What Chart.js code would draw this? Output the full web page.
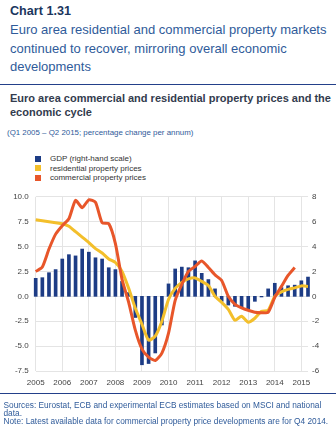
<!DOCTYPE html>
<html>
<head>
<meta charset="utf-8">
<script src="https://cdn.jsdelivr.net/npm/chart.js@4.4.1/dist/chart.umd.min.js"></script>
<style>
  body { margin: 0; width: 336px; height: 435px; overflow: hidden; background: #fff;
         font-family: "Liberation Sans", Arial, sans-serif; position: relative; }
  .abs { position: absolute; white-space: nowrap; }
  #chartNo { left: 10px; top: 3px; font-size: 12.6px; font-weight: bold; color: #1b365d; line-height: 16px; }
  #title { left: 10px; top: 21px; font-size: 13px; line-height: 18.7px; color: #2f5b9a; }
  .rule { position: absolute; left: 0; width: 336px; height: 1.5px; background: #23408a; }
  #subtitle { left: 10px; top: 91px; font-size: 11px; font-weight: bold; line-height: 14.4px; color: #333c4e; }
  #period { left: 7px; top: 128px; font-size: 7.9px; line-height: 10px; color: #2f5b9a; }
  #legend { left: 35px; top: 154px; font-size: 8px; line-height: 9.6px; color: #333; }
  #legend span.sw { display: inline-block; width: 6px; height: 6px; margin-right: 9px; vertical-align: -0.5px; }
  #wrap { position: absolute; left: 0; top: 185px; width: 336px; height: 210px; }
  #notes { left: 3.5px; top: 401px; font-size: 8.3px; line-height: 8px; color: #2f5b9a; }
</style>
</head>
<body>
<div id="chartNo" class="abs">Chart 1.31</div>
<div id="title" class="abs">Euro area residential and commercial property markets<br>continued to recover, mirroring overall economic<br>developments</div>
<div class="rule" style="top:83.5px"></div>
<div id="subtitle" class="abs">Euro area commercial and residential property prices and the<br>economic cycle</div>
<div id="period" class="abs">(Q1 2005 – Q2 2015; percentage change per annum)</div>
<div id="legend" class="abs"></div>
<div id="wrap"><canvas id="chart"></canvas></div>
<div class="rule" style="top:392.5px"></div>
<div id="notes" class="abs">Sources: Eurostat, ECB and experimental ECB estimates based on MSCI and national<br>data.<br>Note: Latest available data for commercial property price developments are for Q4 2014.</div>

<script>
// quarters Q1 2005 - Q2 2015
const quarters = [
    '2005 Q1', '2005 Q2', '2005 Q3', '2005 Q4', '2006 Q1', '2006 Q2', '2006 Q3', '2006 Q4',
    '2007 Q1', '2007 Q2', '2007 Q3', '2007 Q4', '2008 Q1', '2008 Q2', '2008 Q3', '2008 Q4',
    '2009 Q1', '2009 Q2', '2009 Q3', '2009 Q4', '2010 Q1', '2010 Q2', '2010 Q3', '2010 Q4',
    '2011 Q1', '2011 Q2', '2011 Q3', '2011 Q4', '2012 Q1', '2012 Q2', '2012 Q3', '2012 Q4',
    '2013 Q1', '2013 Q2', '2013 Q3', '2013 Q4', '2014 Q1', '2014 Q2', '2014 Q3', '2014 Q4',
    '2015 Q1', '2015 Q2'
];

const seriesNames = ['GDP (right-hand scale)', 'residential property prices', 'commercial property prices'];
const seriesColors = ['#1d3c85', '#f3bf2b', '#e8562a'];

const gdp = [
    1.45, 1.5, 1.9, 2.15,  3.0, 3.35, 3.25, 3.8,  3.55, 3.1, 3.0, 2.3,
    2.15, 1.2, 0.3, -1.7,  -5.5, -5.4, -4.55, -2.3,  1.0, 2.2, 2.35, 2.3,
    2.85, 1.85, 1.35, 0.6,  -0.4, -0.7, -0.8, -0.9,  -1.05, -0.4, -0.05, 0.6,
    1.05, 0.7, 0.85, 0.9,  1.25, 1.55
];

const residential = [
    7.7, 7.6, 7.5, 7.4,  7.3, 7.05, 6.5, 5.95,  5.4, 4.8, 4.35, 3.75,
    3.4, 2.5, 0.8, -1.2,  -2.8, -4.4, -4.0, -2.5,  -0.3, 0.8, 1.4, 1.75,
    1.85, 1.5, 1.1, 0.0,  -0.6, -1.3, -2.4, -2.0,  -2.6, -2.2, -1.5, -1.4,
    0.0, 0.45, 0.7, 0.85,  1.05, 1.0
];

// no commercial data after Q4 2014
const commercial = [
    2.5, 2.95, 4.75, 6.25,  7.1, 7.8, 9.65, 8.9,  9.7, 9.45, 7.4, 7.3,
    5.3, 1.7, -0.6, -3.4,  -5.3, -6.1, -6.45, -5.7,  -3.7, -0.4, 1.2, 2.5,
    3.0, 3.55, 2.9, 2.15,  1.6, 0.0, -0.8, -1.15,  -1.4, -1.6, -1.65, -1.6,
    -0.1, 1.0, 2.1, 2.9,  null, null
];

const leftTicks = [-7.5, -5.0, -2.5, 0.0, 2.5, 5.0, 7.5, 10.0];
const rightTicks = [-6, -4, -2, 0, 2, 4, 6, 8];

// legend
const legend = document.getElementById('legend');
legend.innerHTML = seriesNames.map(function (name, i) {
    return '<div><span class="sw" style="background:' + seriesColors[i] + '"></span>' + name + '</div>';
}).join('');

const gridColor = '#e4e4e4';
const tickFont = { family: '"Liberation Sans", Arial, sans-serif', size: 8 };

const ctx = document.getElementById('chart').getContext('2d');
new Chart(ctx, {
    type: 'bar',
    data: {
        labels: quarters,
        datasets: [
            {
                type: 'line',
                label: seriesNames[2],
                data: commercial,
                yAxisID: 'y',
                borderColor: seriesColors[2],
                borderWidth: 3,
                pointRadius: 0,
                tension: 0.2,
                borderJoinStyle: 'round',
                clip: false,
                order: 0
            },
            {
                type: 'line',
                label: seriesNames[1],
                data: residential,
                yAxisID: 'y',
                borderColor: seriesColors[1],
                borderWidth: 3,
                pointRadius: 0,
                tension: 0.2,
                borderJoinStyle: 'round',
                clip: false,
                order: 1
            },
            {
                label: seriesNames[0],
                data: gdp,
                yAxisID: 'y1',
                backgroundColor: seriesColors[0],
                barThickness: 3,
                clip: false,
                order: 2
            }
        ]
    },
    options: {
        responsive: true,
        maintainAspectRatio: false,
        animation: false,
        layout: { padding: { top: 9, left: 0, right: 0, bottom: 0 } },
        plugins: {
            legend: { display: false },
            tooltip: { enabled: false }
        },
        scales: {
            x: {
                offset: false,
                border: { display: false },
                grid: {
                    offset: false,
                    drawTicks: false,
                    color: function (c) { return c.index % 4 === 0 ? gridColor : 'rgba(0,0,0,0)'; }
                },
                ticks: {
                    autoSkip: false,
                    maxRotation: 0,
                    padding: 7,
                    color: '#444',
                    font: tickFont,
                    callback: function (v, i) { return i % 4 === 0 ? quarters[i].slice(0, 4) : ''; }
                },
                afterFit: function (s) { s.height = 24; }
            },
            y: {
                position: 'left',
                min: -7.5,
                max: 10,
                border: { display: false },
                grid: { color: gridColor, drawTicks: false },
                afterBuildTicks: function (s) { s.ticks = leftTicks.map(function (v) { return { value: v }; }); },
                ticks: {
                    padding: 7,
                    color: '#444',
                    font: tickFont,
                    callback: function (v) { return v.toFixed(1); }
                },
                afterFit: function (s) { s.width = 35.7; }
            },
            y1: {
                position: 'right',
                min: -6,
                max: 8,
                border: { display: false },
                grid: { display: false, drawTicks: false },
                afterBuildTicks: function (s) { s.ticks = rightTicks.map(function (v) { return { value: v }; }); },
                ticks: {
                    padding: 4,
                    color: '#444',
                    font: tickFont
                },
                afterFit: function (s) { s.width = 28; }
            }
        }
    }
});
</script>
</body>
</html>
